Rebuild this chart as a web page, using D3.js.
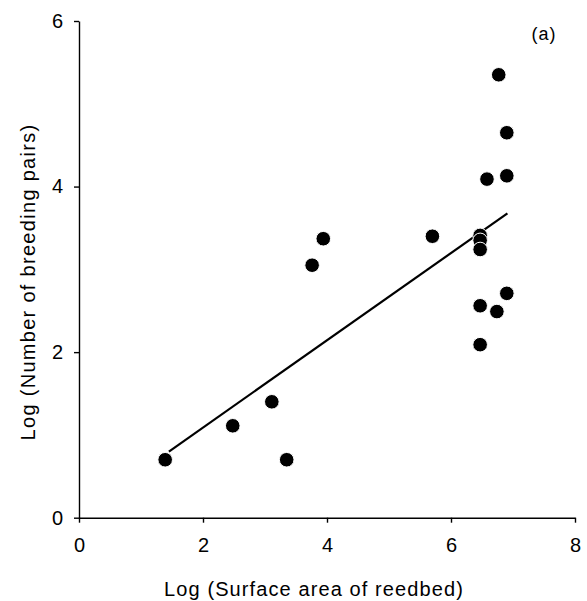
<!DOCTYPE html>
<html>
<head>
<meta charset="utf-8">
<script src="https://cdn.jsdelivr.net/npm/d3@7"></script>
<style>
    body { margin: 0; background: #fff; }
    text { font-family: "Liberation Sans", Arial, sans-serif; fill: #000; }
    .axis path, .axis line { stroke: #000; stroke-width: 1.4; }
    .axis text { font-size: 20px; }
    .axis-title { font-size: 20px; letter-spacing: 1.1px; }
</style>
</head>
<body>
<div id="chart"></div>
<script>

// points (log area, log pairs)
let areaLog = [1.39, 2.48, 3.11, 3.35, 3.76, 3.94, 5.70, 6.47, 6.47, 6.47, 6.77, 6.90, 6.58, 6.90, 6.90, 6.74, 6.47, 6.47];
let pairsLog = [0.70, 1.11, 1.40, 0.70, 3.05, 3.37, 3.40, 3.41, 3.35, 3.24, 5.35, 4.65, 4.09, 4.13, 2.71, 2.49, 2.56, 2.09];

// fitted line
let fitX = [1.45, 6.91];
let fitSlope = 0.527;
let fitIntercept = 0.035;

let xTicks = [0, 2, 4, 6, 8];
let yTicks = [0, 2, 4, 6];

let margin = {top: 21, right: 12, bottom: 83.3, left: 79};
let width = 587 - margin.left - margin.right;
let height = 601 - margin.top - margin.bottom;

let svg = d3.select("#chart").append("svg")
    .attr("width", 587)
    .attr("height", 601)
    .append("g")
    .attr("transform", "translate(" + margin.left + "," + margin.top + ")");

let x = d3.scaleLinear()
    .domain([0, 8])
    .range([0, 496]);

let y = d3.scaleLinear()
    .domain([0, 6])
    .range([height, 0]);

let xAxis = d3.axisBottom(x)
    .tickValues(xTicks)
    .tickFormat(d3.format("d"))
    .tickSize(5)
    .tickPadding(15)
    .tickSizeOuter(0);

let yAxis = d3.axisLeft(y)
    .tickValues(yTicks)
    .tickFormat(d3.format("d"))
    .tickSize(5)
    .tickPadding(11)
    .tickSizeOuter(0);

svg.append("g")
    .attr("class", "axis x-axis")
    .attr("transform", "translate(0," + height + ")")
    .call(xAxis);

svg.append("g")
    .attr("class", "axis y-axis")
    .call(yAxis);

svg.selectAll(".axis text").style("font-family", "Liberation Sans, Arial, sans-serif");

// regression line
svg.append("line")
    .attr("x1", x(fitX[0]))
    .attr("y1", y(fitIntercept + fitSlope * fitX[0]))
    .attr("x2", x(fitX[1]))
    .attr("y2", y(fitIntercept + fitSlope * fitX[1]))
    .style("stroke", "#000")
    .style("stroke-width", 2.2);

let points = areaLog.map((d, i) => ({x: d, y: pairsLog[i]}));

svg.selectAll(".dot")
    .data(points)
    .enter()
    .append("circle")
    .attr("class", "dot")
    .attr("cx", d => x(d.x))
    .attr("cy", d => y(d.y))
    .attr("r", 7.3)
    .style("fill", "#000")
    .style("stroke", "#fff")
    .style("stroke-width", 1);

svg.append("text")
    .attr("class", "axis-title")
    .attr("x", 314 - margin.left)
    .attr("y", 596 - margin.top)
    .style("text-anchor", "middle")
    .text("Log (Surface area of reedbed)");

svg.append("text")
    .attr("class", "axis-title")
    .attr("transform", "translate(" + (35 - margin.left) + "," + (282 - margin.top) + ") rotate(-90)")
    .style("text-anchor", "middle")
    .style("letter-spacing", "1.3px")
    .text("Log (Number of breeding pairs)");

svg.append("text")
    .attr("x", 544 - margin.left)
    .attr("y", 40 - margin.top)
    .style("text-anchor", "middle")
    .style("font-size", "18px")
    .style("letter-spacing", "1px")
    .text("(a)");

</script>
</body>
</html>
